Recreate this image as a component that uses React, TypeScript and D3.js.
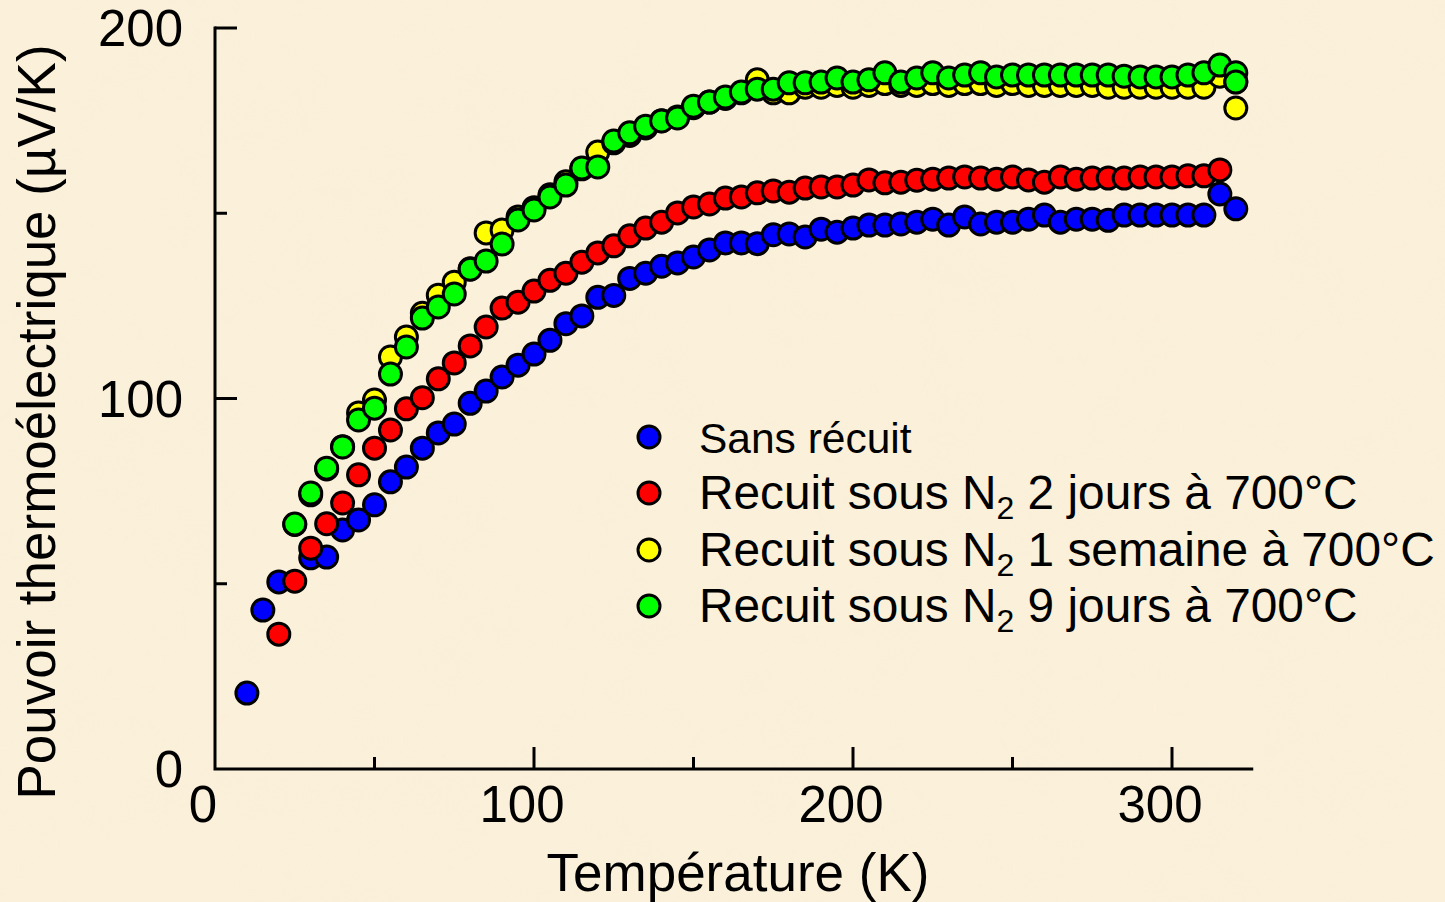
import React, { useEffect, useRef } from 'react';
import * as d3 from 'd3';

// temperature (K) and thermopower (µV/K)
const sansT = [10, 15, 20, 30, 35, 40, 45, 50, 55, 60, 65, 70, 75, 80, 85, 90, 95, 100, 105, 110, 115, 120, 125, 130, 135, 140, 145, 150, 155, 160, 165, 170, 175, 180, 185, 190, 195, 200, 205, 210, 215, 220, 225, 230, 235, 240, 245, 250, 255, 260, 265, 270, 275, 280, 285, 290, 295, 300, 305, 310, 315, 320];
const sansS = [20.5, 42.9, 50.5, 57.0, 57.2, 64.5, 67.2, 71.3, 77.5, 81.5, 86.6, 90.7, 93.1, 98.7, 102.0, 105.8, 109.0, 112.0, 115.7, 120.2, 122.3, 127.3, 127.8, 132.4, 133.8, 135.7, 136.6, 138.2, 140.1, 142.0, 142.0, 141.8, 144.2, 144.4, 143.6, 145.7, 144.9, 146.0, 146.8, 146.8, 147.1, 147.6, 148.4, 146.8, 149.0, 147.1, 147.6, 147.6, 148.4, 149.5, 147.6, 148.4, 148.4, 148.1, 149.5, 149.5, 149.5, 149.5, 149.5, 149.5, 155.2, 151.2];

const deuxT = [20, 25, 30, 35, 40, 45, 50, 55, 60, 65, 70, 75, 80, 85, 90, 95, 100, 105, 110, 115, 120, 125, 130, 135, 140, 145, 150, 155, 160, 165, 170, 175, 180, 185, 190, 195, 200, 205, 210, 215, 220, 225, 230, 235, 240, 245, 250, 255, 260, 265, 270, 275, 280, 285, 290, 295, 300, 305, 310, 315];
const deuxS = [36.4, 50.7, 59.6, 66.2, 71.8, 79.4, 86.6, 91.5, 97.2, 100.2, 105.3, 109.6, 114.2, 119.3, 124.4, 126.0, 129.0, 131.9, 133.8, 136.8, 139.3, 141.2, 143.9, 146.0, 147.6, 150.1, 151.7, 152.5, 154.1, 154.4, 155.5, 156.0, 155.7, 156.8, 157.1, 157.1, 157.6, 159.0, 158.2, 158.4, 158.9, 159.2, 159.5, 159.8, 159.5, 159.2, 159.8, 159.0, 158.4, 159.8, 159.2, 159.5, 159.5, 159.5, 159.8, 159.8, 159.8, 160.1, 160.1, 161.7];

const semaineT = [25, 30, 35, 40, 45, 50, 55, 60, 65, 70, 75, 80, 85, 90, 95, 100, 105, 110, 115, 120, 125, 130, 135, 140, 145, 150, 155, 160, 165, 170, 175, 180, 185, 190, 195, 200, 205, 210, 215, 220, 225, 230, 235, 240, 245, 250, 255, 260, 265, 270, 275, 280, 285, 290, 295, 300, 305, 310, 315, 320, 320];
const semaineS = [66.0, 74.0, 81.0, 87.0, 96.1, 99.6, 111.2, 116.6, 123.0, 127.9, 131.4, 135.0, 144.7, 145.5, 149.0, 151.5, 155.0, 158.5, 162.0, 166.5, 169.0, 171.0, 173.0, 175.0, 176.0, 178.5, 180.0, 181.0, 182.5, 186.0, 182.5, 182.5, 184.0, 184.0, 184.5, 184.0, 184.5, 185.0, 184.5, 184.5, 185.0, 184.5, 185.0, 185.0, 184.5, 185.0, 184.5, 184.5, 184.5, 184.5, 184.5, 184.0, 184.0, 184.0, 184.0, 184.0, 184.0, 184.0, 187.0, 185.5, 178.4];

const neufT = [25, 30, 35, 40, 45, 50, 55, 60, 65, 70, 75, 80, 85, 90, 95, 100, 105, 110, 115, 120, 125, 130, 135, 140, 145, 150, 155, 160, 165, 170, 175, 180, 185, 190, 195, 200, 205, 210, 215, 220, 225, 230, 235, 240, 245, 250, 255, 260, 265, 270, 275, 280, 285, 290, 295, 300, 305, 310, 315, 320, 320];
const neufS = [66.1, 74.5, 81.2, 86.9, 94.2, 97.4, 106.6, 113.9, 121.7, 124.7, 128.2, 134.9, 137.1, 141.7, 148.2, 150.9, 154.4, 157.6, 162.2, 162.5, 169.5, 171.7, 173.5, 174.9, 175.7, 178.9, 180.0, 181.4, 182.7, 183.5, 183.5, 185.2, 185.2, 185.4, 186.5, 185.4, 186.0, 187.9, 185.4, 186.5, 187.9, 186.5, 187.3, 187.9, 186.8, 187.3, 187.3, 187.3, 187.3, 187.3, 187.3, 187.3, 187.0, 186.8, 186.8, 186.8, 187.3, 187.9, 190.0, 187.9, 185.4];

const seriesNames = ['Sans récuit', 'Recuit sous N', 'Recuit sous N', 'Recuit sous N'];
const seriesAfterSub = ['', ' 2 jours à 700°C', ' 1 semaine à 700°C', ' 9 jours à 700°C'];
const seriesColors = ['#0000ff', '#ff0000', '#ffff00', '#00ff00'];

const xTicks = [0, 100, 200, 300];
const yTicks = [0, 100, 200];

const W = 1445;
const H = 902;
const FONT = '"Liberation Sans", Arial, sans-serif';

const App = () => {
  const ref = useRef<SVGSVGElement>(null);

  useEffect(() => {
    const svg = d3.select(ref.current);
    svg.selectAll('*').remove();

    const x = d3.scaleLinear().domain([0, 325]).range([215, 215 + 325 * 3.19]);
    const y = d3.scaleLinear().domain([0, 200]).range([769, 28]);

    // paper-like background
    const defs = svg.append('defs');
    const f = defs.append('filter').attr('id', 'paper').attr('x', 0).attr('y', 0).attr('width', '100%').attr('height', '100%');
    f.append('feTurbulence').attr('type', 'fractalNoise').attr('baseFrequency', 0.012).attr('numOctaves', 3).attr('seed', 4).attr('result', 'n');
    f.append('feColorMatrix').attr('type', 'matrix')
      .attr('values', '0 0 0 0 0.93  0 0 0 0 0.86  0 0 0 0 0.70  0 0 0 1.2 -0.45');
    svg.append('rect').attr('width', W).attr('height', H).attr('fill', '#fbf0d9');
    svg.append('rect').attr('width', W).attr('height', H).attr('filter', 'url(#paper)').attr('opacity', 0.3);

    const g = svg.append('g');

    // axes: ticks point inward
    const axis = g.append('g').attr('stroke', '#000').attr('stroke-width', 3).attr('fill', 'none');
    axis.append('path').attr('d', `M${x(0)},${y(200)}V${y(0)}H${x(325)}`).attr('stroke-linecap', 'square');
    d3.range(50, 201, 50).forEach((v) => {
      const len = v % 100 === 0 ? 22 : 12;
      axis.append('line').attr('x1', x(0)).attr('x2', x(0) + len).attr('y1', y(v)).attr('y2', y(v));
    });
    d3.range(50, 326, 50).forEach((v) => {
      const len = v % 100 === 0 ? 22 : 12;
      axis.append('line').attr('x1', x(v)).attr('x2', x(v)).attr('y1', y(0)).attr('y2', y(0) - len);
    });

    const labels = g.append('g').attr('font-family', FONT).attr('fill', '#000');
    yTicks.forEach((v) => {
      labels.append('text').attr('x', 183).attr('y', y(v) + 18).attr('text-anchor', 'end')
        .attr('font-size', 51).text(v);
    });
    xTicks.forEach((v) => {
      labels.append('text').attr('x', x(v) - 12).attr('y', 822).attr('text-anchor', 'middle')
        .attr('font-size', 51).text(v);
    });
    labels.append('text').attr('x', 738).attr('y', 891).attr('text-anchor', 'middle')
      .attr('font-size', 53).text('Température (K)');
    labels.append('text').attr('transform', 'translate(55,422) rotate(-90)').attr('text-anchor', 'middle')
      .attr('font-size', 53).text('Pouvoir thermoélectrique (µV/K)');

    // data points
    const all = [
      d3.zip(sansT, sansS),
      d3.zip(deuxT, deuxS),
      d3.zip(semaineT, semaineS),
      d3.zip(neufT, neufS),
    ];
    all.forEach((pts, i) => {
      g.append('g').selectAll('circle').data(pts).enter().append('circle')
        .attr('cx', (d) => x(d[0]))
        .attr('cy', (d) => y(d[1]))
        .attr('r', 11)
        .attr('fill', seriesColors[i])
        .attr('stroke', '#000')
        .attr('stroke-width', 3);
    });

    // legend
    const legend = g.append('g').attr('font-family', FONT);
    const rowY = [437, 493, 550, 606];
    seriesNames.forEach((name, i) => {
      legend.append('circle').attr('cx', 649).attr('cy', rowY[i]).attr('r', 11)
        .attr('fill', seriesColors[i]).attr('stroke', '#000').attr('stroke-width', 3);
      const t = legend.append('text').attr('x', 699).attr('y', rowY[i] + 16)
        .attr('font-size', i === 0 ? 42.5 : 47.8).attr('fill', '#000');
      t.append('tspan').text(name);
      if (i > 0) {
        t.append('tspan').attr('dy', 10).attr('font-size', 32).text('2');
        t.append('tspan').attr('dy', -10).text(seriesAfterSub[i]);
      }
    });
  }, []);

  return (
    <div style={{ position: 'fixed', left: 0, top: 0 }}>
      <svg ref={ref} width={W} height={H} style={{ display: 'block' }} />
    </div>
  );
};

export default App;
